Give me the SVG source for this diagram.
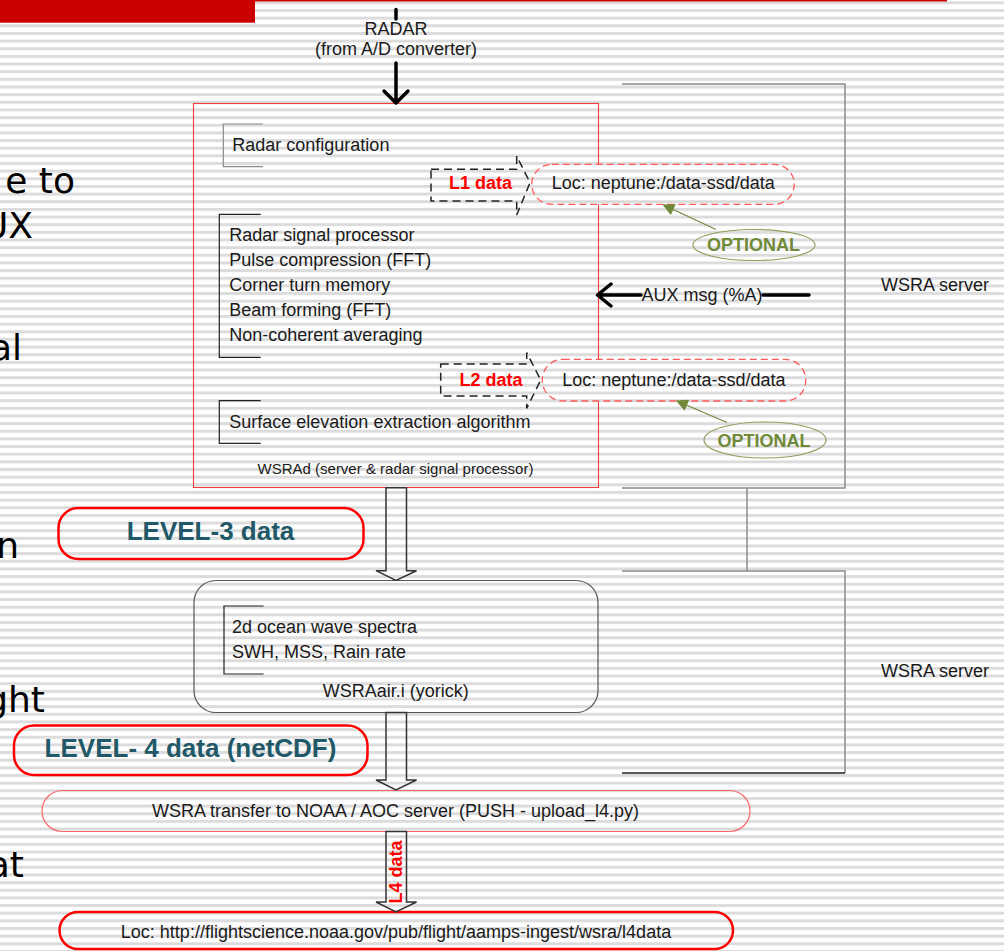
<svg xmlns="http://www.w3.org/2000/svg" width="1004" height="951" viewBox="0 0 1004 951">
<defs>
<pattern id="stripes" patternUnits="userSpaceOnUse" x="0" y="1.35" width="20" height="7.65">
<rect width="20" height="7.65" fill="#ffffff"/>
<rect width="20" height="3" fill="#dcdcdc"/>
</pattern>
<marker id="olive" viewBox="0 0 10 10" refX="9" refY="5" markerWidth="15" markerHeight="12" markerUnits="userSpaceOnUse" orient="auto">
<path d="M0,0 L10,5 L0,10 Z" fill="#6f8a38"/>
</marker>
</defs>
<style>
.t{font-family:"Liberation Sans",Arial,sans-serif;font-size:18px;fill:#1a1a1a}
.s15{font-size:15px}
.b{font-weight:bold}
.red{fill:#ff0000}
.lvl{font-family:"Liberation Sans",Arial,sans-serif;font-weight:bold;font-size:26px;fill:#215968}
.opt{font-family:"Liberation Sans",Arial,sans-serif;font-weight:bold;font-size:18px;fill:#6f8a38}
.slide{font-family:"DejaVu Sans",Verdana,sans-serif;font-size:36px;fill:#000}
.brk{fill:none;stroke:#222;stroke-width:1.2}
.brkg{fill:none;stroke:#8a8a8a;stroke-width:1.2}
.dash{fill:none;stroke:#222;stroke-width:1.5;stroke-dasharray:8 5}
.loc{fill:url(#stripes);stroke:#ff5a5a;stroke-width:1.3;stroke-dasharray:7 4}
.lvlbox{fill:none;stroke:#ff0000;stroke-width:2.5}
.block{fill:none;stroke:#333;stroke-width:1.5}
.srv{fill:none;stroke:#8c8c8c;stroke-width:1.5}
.thick{fill:none;stroke:#000;stroke-width:3.5;stroke-linecap:round;stroke-linejoin:round}
.ell{fill:none;stroke:#8ea05a;stroke-width:1.2}
.oline{fill:none;stroke:#6f8a38;stroke-width:1.3}
</style>
<rect x="0" y="0" width="1004" height="951" fill="url(#stripes)"/>
<rect x="0" y="0" width="255" height="22.7" fill="#cc0000"/>
<line x1="255" y1="0.8" x2="947" y2="0.8" stroke="#cc0000" stroke-width="1.6"/>

<g id="slide-text">
<text class="slide" x="75" y="193" text-anchor="end">e to</text>
<text class="slide" x="33" y="238" text-anchor="end">UX</text>
<text class="slide" x="22" y="360" text-anchor="end">al</text>
<text class="slide" x="19" y="558" text-anchor="end">n</text>
<text class="slide" x="45" y="712" text-anchor="end">ght</text>
<text class="slide" x="24" y="877" text-anchor="end">at</text>
</g>

<g id="servers">
<path class="srv" d="M622,84 H845 V488 H622"/>
<path class="srv" d="M622,571 H845 V773"/>
<path d="M622,773 H845" stroke="#222" stroke-width="1.5" fill="none"/>
<text class="t" x="881" y="291">WSRA server</text>
<text class="t" x="881" y="677">WSRA server</text>
</g>

<g id="radar">
<text class="t" x="396" y="35" text-anchor="middle">RADAR</text>
<text class="t" x="396" y="55" text-anchor="middle">(from A/D converter)</text>
</g>

<g id="wsrad">
<rect x="193.5" y="103.5" width="405" height="384" fill="none" stroke="#ee3b3b" stroke-width="1.1"/>
<path class="brkg" d="M263,124 H223.3 V166.7 H263"/>
<text class="t" x="232.3" y="151">Radar configuration</text>
<path class="brk" d="M260.7,214.3 H219.3 V357.3 H260.7"/>
<text class="t" x="229.3" y="241">Radar signal processor</text>
<text class="t" x="229.3" y="266">Pulse compression (FFT)</text>
<text class="t" x="229.3" y="291">Corner turn memory</text>
<text class="t" x="229.3" y="316">Beam forming  (FFT)</text>
<text class="t" x="229.3" y="341">Non-coherent averaging</text>
<path class="brk" d="M260.7,400.7 H219.3 V443.3 H260.7"/>
<text class="t" x="229.3" y="428">Surface elevation extraction algorithm</text>
<text class="t s15" x="395.5" y="474" text-anchor="middle">WSRAd (server &amp; radar signal processor)</text>
</g>

<g id="l1-arrow">
<path class="dash" d="M431,169.3 H516.7 V156 L530,182.7 L516.7,215 V201 H431 Z"/>
<text class="t b red" x="480.5" y="189" text-anchor="middle" font-size="17.5">L1 data</text>
</g>
<g id="l1-loc">
<rect class="loc" x="531.7" y="164.3" width="262.6" height="40" rx="20"/>
<text class="t" x="551.7" y="189">Loc: neptune:/data-ssd/data</text>
</g>
<g id="opt1">
<ellipse class="ell" cx="754" cy="245" rx="61" ry="15.5"/>
<text class="opt" x="753.5" y="251" text-anchor="middle">OPTIONAL</text>
</g>

<g id="l2-arrow">
<path class="dash" d="M440.7,364 H526.7 V352.7 L540.7,380 L526.7,408.3 V396 H440.7 Z"/>
<text class="t b red" x="491" y="385.5" text-anchor="middle" font-size="18">L2 data</text>
</g>
<g id="l2-loc">
<rect class="loc" x="542.3" y="359.3" width="263.4" height="41.7" rx="20.5"/>
<text class="t" x="562.3" y="386">Loc: neptune:/data-ssd/data</text>
</g>
<g id="opt2">
<ellipse class="ell" cx="765" cy="440" rx="61" ry="18"/>
<text class="opt" x="764" y="446.5" text-anchor="middle">OPTIONAL</text>
</g>

<g id="aux">
<text class="t" x="641.5" y="301">AUX msg (%A)</text>
</g>

<g id="level3">
<rect class="lvlbox" x="58.5" y="508" width="305" height="51" rx="20"/>
<text class="lvl" x="210.5" y="540" text-anchor="middle" font-size="26.5">LEVEL-3 data</text>
</g>

<g id="wsraair">
<rect x="194" y="580.5" width="404" height="132" rx="22" fill="none" stroke="#555" stroke-width="1.2"/>
<path class="brk" d="M263.6,606 H224 V674 H263.6"/>
<text class="t" x="232" y="633">2d ocean wave spectra</text>
<text class="t" x="232" y="658">SWH, MSS, Rain rate</text>
<text class="t" x="395.7" y="697" text-anchor="middle">WSRAair.i (yorick)</text>
</g>

<g id="level4">
<rect class="lvlbox" x="14" y="725.5" width="353.5" height="49.5" rx="20"/>
<text class="lvl" x="190.5" y="757" text-anchor="middle" font-size="26.8">LEVEL- 4 data (netCDF)</text>
</g>

<g id="transfer">
<rect x="42" y="790.5" width="708" height="41" rx="20.5" fill="none" stroke="#ff6666" stroke-width="1.2"/>
<text class="t" x="395.5" y="816.5" text-anchor="middle">WSRA transfer to NOAA / AOC server (PUSH - upload_l4.py)</text>
</g>

<g id="noaa-loc">
<rect class="lvlbox" x="59.5" y="912" width="673.5" height="37" rx="18.5"/>
<text class="t" x="396" y="937.5" text-anchor="middle">Loc: http://flightscience.noaa.gov/pub/flight/aamps-ingest/wsra/l4data</text>
</g>

<g id="connectors">
<path class="thick" d="M396,9.5 V19" stroke-width="4.5"/>
<path class="thick" d="M396,63 V103 M384,91 L396,103 L408,91"/>
<path class="thick" d="M598,295 H641 M763,295 H809 M611,284 L597.5,295 L611,306"/>
<line class="oline" x1="716" y1="229.5" x2="663.5" y2="205" marker-end="url(#olive)"/>
<line class="oline" x1="727" y1="422.5" x2="677" y2="401" marker-end="url(#olive)"/>
<path class="block" d="M386,487.7 V570.7 H376 L396,580.5 L416.5,570.7 H406.5 V487.7 Z"/>
<path class="block" d="M386,712.5 V780 H376 L396,790 L416.5,780 H406.5 V712.5 Z"/>
<path class="block" d="M386,831.5 V902 H376 L396,912 L416.5,902 H406.5 V831.5 Z"/>
<path class="srv" d="M747,488 V571" stroke="#666" stroke-width="1.2"/>
<text class="t b red" font-size="17.5" transform="translate(402.3,872) rotate(-90)" text-anchor="middle">L4 data</text>
</g>
</svg>
